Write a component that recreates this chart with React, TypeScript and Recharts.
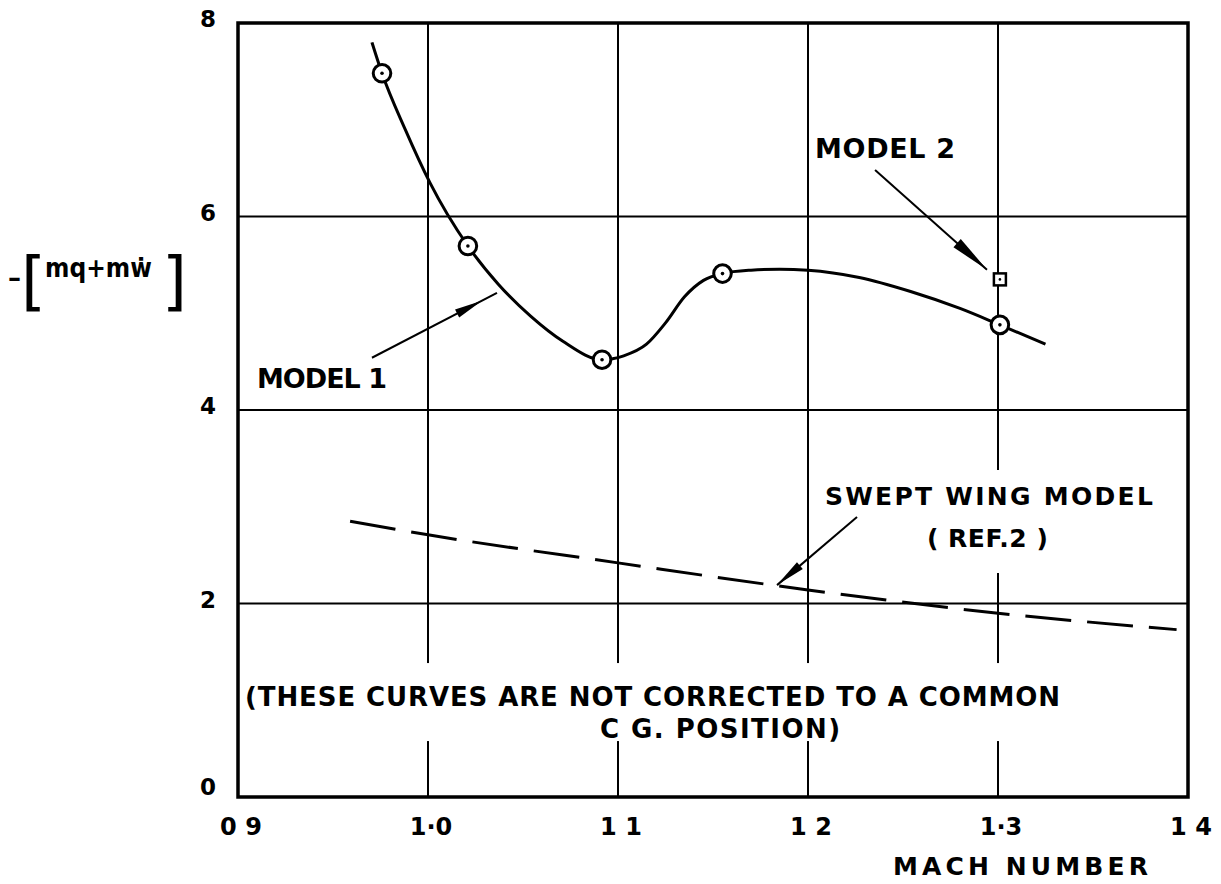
import React from 'react';
import {
  ComposedChart,
  Line,
  Scatter,
  XAxis,
  YAxis,
  CartesianGrid,
  ReferenceArea,
  ReferenceLine,
  ReferenceDot,
} from 'recharts';

// ---------- data ----------
const xTicks = [0.9, 1.0, 1.1, 1.2, 1.3, 1.4];
const xTickLabels = ['0 9', '1·0', '1 1', '1 2', '1·3', '1 4'];
const yTicks = [0, 2, 4, 6, 8];
const yTickLabels = ['0', '2', '4', '6', '8'];

// Model 1 faired curve
const model1CurveMach = [
  0.9705, 0.9758, 0.988, 1.001, 1.021, 1.037, 1.054, 1.071, 1.0916,
  1.103, 1.115, 1.125, 1.135, 1.145, 1.155,
  1.17, 1.185, 1.2, 1.227, 1.254, 1.28, 1.301, 1.325,
];
const model1CurveValue = [
  7.8, 7.48, 6.9, 6.35, 5.695, 5.3, 4.97, 4.71, 4.52,
  4.56, 4.68, 4.9, 5.17, 5.34, 5.41,
  5.445, 5.455, 5.445, 5.37, 5.225, 5.05, 4.88, 4.68,
];

// Model 1 test points
const model1PointMach = [0.9758, 1.021, 1.0916, 1.155, 1.301];
const model1PointValue = [7.48, 5.695, 4.52, 5.41, 4.88];

// Model 2 test point
const model2PointMach = [1.301];
const model2PointValue = [5.35];

// Swept wing model (Ref. 2)
const sweptMach = [0.959, 1.0, 1.1, 1.2, 1.3, 1.394];
const sweptValue = [2.85, 2.71, 2.42, 2.14, 1.9, 1.73];

const model1Curve = model1CurveMach.map((m, i) => ({ mach: m, v: model1CurveValue[i] }));
const model1Points = model1PointMach.map((m, i) => ({ mach: m, v: model1PointValue[i] }));
const model2Points = model2PointMach.map((m, i) => ({ mach: m, v: model2PointValue[i] }));
const swept = sweptMach.map((m, i) => ({ mach: m, v: sweptValue[i] }));

// ---------- styling helpers ----------
const FONT = '"DejaVu Sans", Verdana, sans-serif';
const NARROW = '"Liberation Sans Narrow", "DejaVu Sans Condensed", sans-serif';

const XTick = (p: any) => {
  const i = xTicks.findIndex((t) => Math.abs(t - p.payload.value) < 1e-6);
  return (
    <text x={p.x + 3} y={p.y + 38} textAnchor="middle" fontFamily={FONT} fontWeight="bold" fontSize={24} fill="#000">
      {xTickLabels[i]}
    </text>
  );
};

const YTick = (p: any) => {
  const i = yTicks.findIndex((t) => Math.abs(t - p.payload.value) < 1e-6);
  const dy = p.payload.value === 0 ? -2 : 4;
  return (
    <text x={p.x - 30} y={p.y + dy} textAnchor="middle" fontFamily={FONT} fontWeight="bold" fontSize={23} fill="#000">
      {yTickLabels[i]}
    </text>
  );
};

const CircleMarker = (p: any) => (
  <g>
    <circle cx={p.cx} cy={p.cy} r={8.8} fill="#fff" stroke="#000" strokeWidth={3} />
    <circle cx={p.cx} cy={p.cy} r={1.8} fill="#000" />
  </g>
);

const SquareMarker = (p: any) => (
  <g>
    <rect x={p.cx - 6} y={p.cy - 6} width={12} height={12} fill="#fff" stroke="#000" strokeWidth={2.5} />
    <circle cx={p.cx} cy={p.cy} r={1.3} fill="#000" />
  </g>
);

type TextLine = { text: string; dx: number; dy: number; size: number; width?: number };
type Bg = { dx: number; dy: number; w: number; h: number };

const makeText = (lines: TextLine[], bg?: Bg) => (p: any) => {
  const { cx, cy } = p;
  return (
    <g>
      {bg && <rect x={cx + bg.dx} y={cy + bg.dy} width={bg.w} height={bg.h} fill="#fff" />}
      {lines.map((l, i) => (
        <text
          key={i}
          x={cx + l.dx}
          y={cy + l.dy}
          fontFamily={FONT}
          fontWeight="bold"
          fontSize={l.size}
          textLength={l.width}
          lengthAdjust="spacing"
          fill="#000"
        >
          {l.text}
        </text>
      ))}
    </g>
  );
};

const YLabelShape = (p: any) => {
  const { cx, cy } = p;
  return (
    <text fill="#000" fontFamily={FONT} fontWeight="bold" fontSize={30}>
      <tspan x={cx} y={cy + 10} fontSize={26}>–</tspan>
      <tspan x={cx + 13} y={cy + 26} fontSize={64} fontWeight="normal">[</tspan>
      <tspan x={cx + 37} y={cy} fontSize={26} fontFamily={NARROW}>mq+mẇ</tspan>
      <tspan x={cx + 154} y={cy + 26} fontSize={64} fontWeight="normal">]</tspan>
    </text>
  );
};

const arrowShape = (tip: number, headLen: number, hw: number) => (p: any) => {
  const { x1, y1, x2, y2 } = p;
  const dx = x2 - x1;
  const dy = y2 - y1;
  const len = Math.hypot(dx, dy) || 1;
  const ux = dx / len;
  const uy = dy / len;
  const tx = x1 + dx * tip;
  const ty = y1 + dy * tip;
  const bx = tx - ux * headLen;
  const by = ty - uy * headLen;
  return (
    <g>
      <line x1={x1} y1={y1} x2={x2} y2={y2} stroke="#000" strokeWidth={2} />
      <polygon
        points={`${tx},${ty} ${bx - uy * hw},${by + ux * hw} ${bx + uy * hw},${by - ux * hw}`}
        fill="#000"
      />
    </g>
  );
};

const model1Label = makeText([{ text: 'MODEL 1', dx: 0, dy: 0, size: 27, width: 130 }]);
const model2Label = makeText([{ text: 'MODEL 2', dx: 0, dy: 0, size: 27, width: 140 }]);
const sweptLabel = makeText(
  [
    { text: 'SWEPT WING MODEL', dx: 0, dy: 0, size: 25, width: 328 },
    { text: '( REF.2 )', dx: 102, dy: 42, size: 25, width: 121 },
  ],
  { dx: 80, dy: -35, w: 255, h: 103 }
);
const noteLabel = makeText(
  [
    { text: '(THESE CURVES ARE NOT CORRECTED TO A COMMON', dx: 0, dy: 0, size: 26, width: 815 },
    { text: 'C G. POSITION)', dx: 355, dy: 32, size: 26, width: 240 },
  ],
  { dx: 0, dy: -43, w: 860, h: 78 }
);
const machLabel = makeText([{ text: 'MACH NUMBER', dx: 0, dy: 0, size: 25, width: 255 }]);

export default function App() {
  return (
    <div style={{ position: 'absolute', left: 0, top: 0, background: '#fff' }}>
      <ComposedChart width={1221} height={884} margin={{ top: 23, right: 33, left: 178, bottom: 27 }}>
        <CartesianGrid stroke="#000" strokeWidth={2} horizontalValues={yTicks} verticalValues={xTicks} />
        <XAxis
          dataKey="mach"
          type="number"
          domain={[0.9, 1.4]}
          ticks={xTicks}
          allowDataOverflow
          axisLine={false}
          tickLine={false}
          tickSize={0}
          tickMargin={0}
          height={60}
          tick={<XTick />}
          interval={0}
        />
        <YAxis
          dataKey="v"
          type="number"
          domain={[0, 8]}
          ticks={yTicks}
          allowDataOverflow
          axisLine={false}
          tickLine={false}
          tickSize={0}
          tickMargin={0}
          width={60}
          tick={<YTick />}
          interval={0}
        />

        <ReferenceDot x={1.2089} y={3.018} r={0} ifOverflow="visible" shape={sweptLabel} />
        <ReferenceDot x={0.9037} y={0.94} r={0} ifOverflow="visible" shape={noteLabel} />
        <ReferenceDot x={0.91} y={4.227} r={0} ifOverflow="visible" shape={model1Label} />
        <ReferenceDot x={1.2037} y={6.605} r={0} ifOverflow="visible" shape={model2Label} />
        <ReferenceDot x={1.2447} y={-0.806} r={0} ifOverflow="visible" shape={machLabel} />
        <ReferenceDot x={0.779} y={5.375} r={0} ifOverflow="visible" shape={YLabelShape} />

        <ReferenceLine
          segment={[{ x: 0.9705, y: 4.54 }, { x: 1.0363, y: 5.21 }]}
          ifOverflow="visible"
          shape={arrowShape(0.88, 28, 4.5)}
        />
        <ReferenceLine
          segment={[{ x: 1.2353, y: 6.48 }, { x: 1.2942, y: 5.45 }]}
          ifOverflow="visible"
          shape={arrowShape(1, 40, 5.5)}
        />
        <ReferenceLine
          segment={[{ x: 1.2258, y: 2.894 }, { x: 1.1837, y: 2.19 }]}
          ifOverflow="visible"
          shape={arrowShape(1, 30, 4.5)}
        />

        <Line
          data={swept}
          dataKey="v"
          type="monotone"
          stroke="#000"
          strokeWidth={3}
          strokeDasharray="46 16"
          dot={false}
          activeDot={false}
          isAnimationActive={false}
        />
        <Line
          data={model1Curve}
          dataKey="v"
          type="monotone"
          stroke="#000"
          strokeWidth={3}
          dot={false}
          activeDot={false}
          isAnimationActive={false}
        />
        <Scatter data={model1Points} dataKey="v" shape={CircleMarker} isAnimationActive={false} />
        <Scatter data={model2Points} dataKey="v" shape={SquareMarker} isAnimationActive={false} />

        <ReferenceArea x1={0.9} x2={1.4} y1={0} y2={8} fill="none" stroke="#000" strokeWidth={3.5} ifOverflow="visible" />
      </ComposedChart>
    </div>
  );
}
